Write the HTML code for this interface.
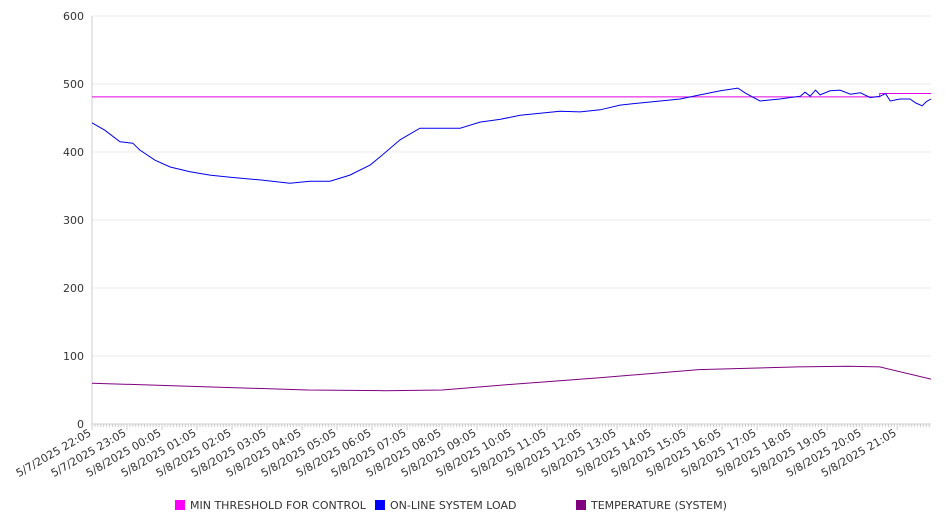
<!DOCTYPE html>
<html><head><meta charset="utf-8"><style>
body{margin:0;background:#fff;font-family:"DejaVu Sans","Liberation Sans",sans-serif;}
svg text{font-family:"DejaVu Sans","Liberation Sans",sans-serif;fill:#333;}
</style></head><body>
<svg id="c" width="946" height="526" xmlns="http://www.w3.org/2000/svg"></svg>
<script>
const yTicks=[0,100,200,300,400,500,600];
const xLabels=["5/7/2025 22:05","5/7/2025 23:05","5/8/2025 00:05","5/8/2025 01:05","5/8/2025 02:05","5/8/2025 03:05","5/8/2025 04:05","5/8/2025 05:05","5/8/2025 06:05","5/8/2025 07:05","5/8/2025 08:05","5/8/2025 09:05","5/8/2025 10:05","5/8/2025 11:05","5/8/2025 12:05","5/8/2025 13:05","5/8/2025 14:05","5/8/2025 15:05","5/8/2025 16:05","5/8/2025 17:05","5/8/2025 18:05","5/8/2025 19:05","5/8/2025 20:05","5/8/2025 21:05"];
const loadT=[0,22,48,70,82,108,134,168,202,237,288,339,374,408,442,477,494,528,562,588,631,665,699,734,768,802,837,871,905,939,974,1008,1042,1077,1107,1119,1145,1179,1214,1222,1231,1240,1248,1265,1282,1300,1317,1334,1351,1360,1368,1385,1402,1412,1423,1430,1438];
const loadV=[443,432,415,413,403,388,378,371,366,363,359,354,357,357,366,381,393,418,435,435,435,444,448,454,457,460,459,462,469,472,475,478,484,490,494,487,475,478,482,488,482,491,484,490,491,485,487,480,482,486,475,478,478,472,468,474,478];
const tempT=[0,185,370,500,600,700,870,1040,1210,1295,1350,1438];
const tempV=[60,55,50,49,50,57,68,80,84,85,84,66];
const thrT=[0,1350,1350,1438];
const thrV=[481,481,486,486];
const X0=92,X1=931,Y0=424,Y1=16,TMAX=1438;
const sx=t=>X0+t*(X1-X0)/TMAX, sy=v=>Y0-v*(Y0-Y1)/600;
const svg=document.getElementById('c');const NS="http://www.w3.org/2000/svg";
function mk(tag,attrs,parent){const e=document.createElementNS(NS,tag);for(const k in attrs)e.setAttribute(k,attrs[k]);(parent||svg).appendChild(e);return e;}
yTicks.forEach(v=>{
 const g=mk('line',{x1:X0,x2:X1,y1:sy(v),y2:sy(v),stroke:v===0?'#ccc':'#ebebeb','stroke-width':1});
 
 
 const t=mk('text',{x:84,y:sy(v)+4,'text-anchor':'end','font-size':11});t.textContent=v;
 
 
});
const ax=mk('line',{x1:X0,x2:X0,y1:Y1,y2:Y0,stroke:'#ccc'});


for(let t=0;t<=TMAX;t+=5){const l=mk('line',{x1:sx(t),x2:sx(t),y1:Y0,y2:Y0+(t%60===0?6:3),stroke:'#ccc'});
 
 }
xLabels.forEach((s,i)=>{const x=sx(i*60);
 const t=mk('text',{x:x,y:Y0+11,'text-anchor':'end','font-size':11,transform:`rotate(-30 ${x} ${Y0+11})`});t.textContent=s;
 
 });
function line(T,V,color,name){const d=T.map((t,i)=>(i?'L':'M')+sx(t).toFixed(1)+','+sy(V[i]).toFixed(1)).join('');
 const p=mk('path',{d:d,fill:'none',stroke:color,'stroke-width':1});
 
 }
line(thrT,thrV,'#e000e0','min-threshold-line');
line(tempT,tempV,'#800080','temperature-line');
line(loadT,loadV,'#0000ee','system-load-line');
const leg=[["MIN THRESHOLD FOR CONTROL","#ff00ff",175],["ON-LINE SYSTEM LOAD","#0000ff",375],["TEMPERATURE (SYSTEM)","#800080",576]];
leg.forEach(l=>{const g=mk('g',{});
 
 
 mk('rect',{x:l[2],y:500,width:10,height:10,fill:l[1]},g);
 const t=mk('text',{x:l[2]+15,y:509,'font-size':11},g);t.textContent=l[0];});
</script>
</body></html>
